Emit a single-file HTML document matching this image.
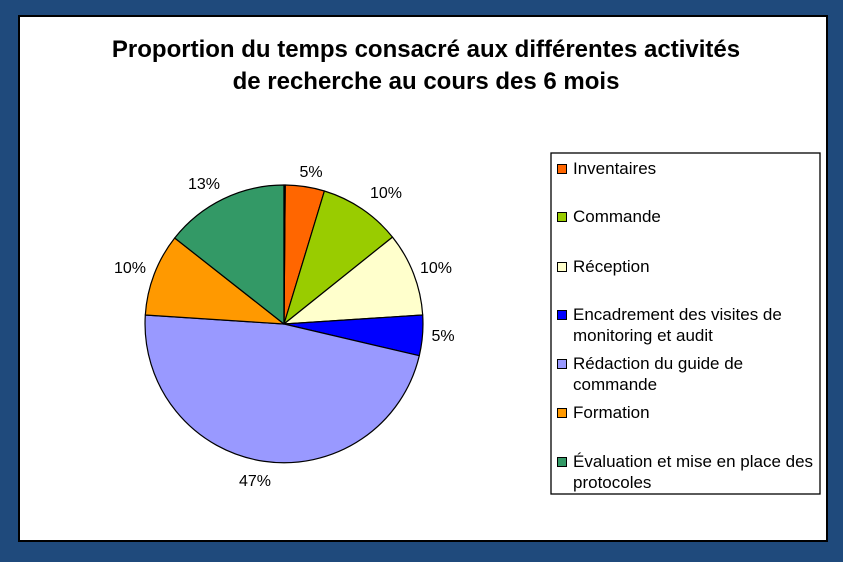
<!DOCTYPE html>
<html><head><meta charset="utf-8"><style>
body{margin:0;width:843px;height:557px;background:#1f4a7c;overflow:hidden}
</style></head><body>
<svg width="843" height="557" xmlns="http://www.w3.org/2000/svg" font-family="Liberation Sans, Arial, sans-serif">
<rect x="19" y="16" width="808" height="525" fill="#fff" stroke="#000" stroke-width="2"/>
<text x="426" y="57" font-size="24" font-weight="bold" text-anchor="middle">Proportion du temps consacré aux différentes activités</text>
<text x="426" y="89" font-size="24" font-weight="bold" text-anchor="middle">de recherche au cours des 6 mois</text>
<g stroke="#000" stroke-width="1.2" stroke-linejoin="round">
<path d="M284,324 L285.2,185 A139,139 0 0 1 324.4,191 Z" fill="#ff6600"/>
<path d="M284,324 L324.4,191 A139,139 0 0 1 392.5,237.1 Z" fill="#99cc00"/>
<path d="M284,324 L392.5,237.1 A139,139 0 0 1 422.7,315 Z" fill="#ffffcc"/>
<path d="M284,324 L422.7,315 A139,139 0 0 1 419.3,355.7 Z" fill="#0000ff"/>
<path d="M284,324 L419.3,355.7 A139,139 0 0 1 145.3,315 Z" fill="#9999ff"/>
<path d="M284,324 L145.3,315 A139,139 0 0 1 174.7,238 Z" fill="#ff9900"/>
<path d="M284,324 L174.7,238 A139,139 0 0 1 284,185 Z" fill="#339966"/>
<path d="M284,324 L284,185 A139,139 0 0 1 285.2,185 Z" fill="#ffffff"/>
</g>
<g font-size="16" fill="#000" text-anchor="middle">
<text x="311" y="177">5%</text>
<text x="386" y="198">10%</text>
<text x="436" y="273">10%</text>
<text x="443" y="341">5%</text>
<text x="255" y="486">47%</text>
<text x="130" y="273">10%</text>
<text x="204" y="189">13%</text>
</g>
<rect x="551" y="153" width="269" height="341" fill="#fff" stroke="#000" stroke-width="1.3"/>
<g stroke="#000" stroke-width="1">
<rect x="557.5" y="164.5" width="9" height="9" fill="#ff6600"/>
<rect x="557.5" y="212.5" width="9" height="9" fill="#99cc00"/>
<rect x="557.5" y="262.5" width="9" height="9" fill="#ffffcc"/>
<rect x="557.5" y="310.5" width="9" height="9" fill="#0000ff"/>
<rect x="557.5" y="359.5" width="9" height="9" fill="#9999ff"/>
<rect x="557.5" y="408.5" width="9" height="9" fill="#ff9900"/>
<rect x="557.5" y="457.5" width="9" height="9" fill="#339966"/>
</g>
<g font-size="17" fill="#000">
<text x="573" y="174">Inventaires</text>
<text x="573" y="222">Commande</text>
<text x="573" y="272">Réception</text>
<text x="573" y="320">Encadrement des visites de</text>
<text x="573" y="341">monitoring et audit</text>
<text x="573" y="369">Rédaction du guide de</text>
<text x="573" y="390">commande</text>
<text x="573" y="418">Formation</text>
<text x="573" y="467">Évaluation et mise en place des</text>
<text x="573" y="488">protocoles</text>
</g>
</svg>
</body></html>
